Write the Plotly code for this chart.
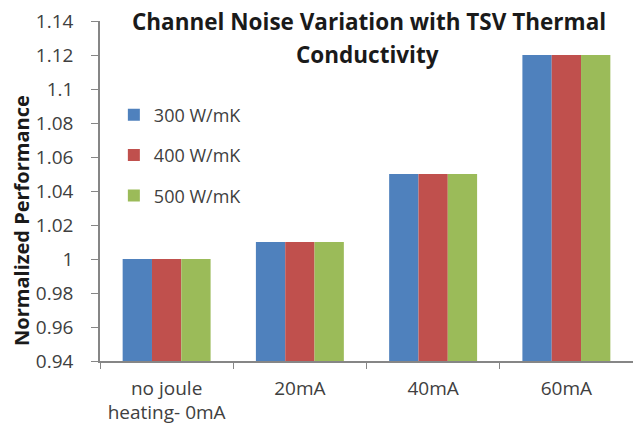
import plotly.graph_objects as go

categories = ["no joule<br>heating- 0mA", "20mA", "40mA", "60mA"]
series_names = ["300 W/mK", "400 W/mK", "500 W/mK"]
values_300 = [1.00, 1.01, 1.05, 1.12]
values_400 = [1.00, 1.01, 1.05, 1.12]
values_500 = [1.00, 1.01, 1.05, 1.12]
y_ticks = [0.94, 0.96, 0.98, 1.0, 1.02, 1.04, 1.06, 1.08, 1.1, 1.12, 1.14]
y_tick_labels = ["0.94", "0.96", "0.98", "1", "1.02", "1.04", "1.06", "1.08", "1.1", "1.12", "1.14"]

colors = ["#4F81BD", "#C0504D", "#9BBB59"]
font = "Open Sans, Lato, sans-serif"
text_color = "#404040"
title_color = "#1a1a1a"

fig = go.Figure()
for i, (name, vals) in enumerate(zip(series_names, [values_300, values_400, values_500])):
    fig.add_trace(go.Bar(
        x=categories, y=vals, name=name, legendgroup=name,
        marker=dict(color=colors[i], line=dict(width=0)),
    ))

fig.update_layout(
    width=633, height=431,
    margin=dict(l=100, r=0, t=21, b=70),
    paper_bgcolor="white", plot_bgcolor="white",
    barmode="group", bargap=0.34, bargroupgap=0,
    font=dict(family=font, color=text_color, size=18),
    showlegend=True,
    legend=dict(x=0.026, y=0.778, xanchor="left", yanchor="top",
                bgcolor="rgba(0,0,0,0)", font=dict(size=18, color=text_color),
                tracegroupgap=14, itemwidth=30),
    xaxis=dict(showline=True, linecolor="#868686", linewidth=1.5,
               ticks="outside", tickson="boundaries", ticklen=6, tickcolor="#868686",
               ticklabelstandoff=9,
               tickfont=dict(size=19, color=text_color), showgrid=False),
    yaxis=dict(range=[0.94, 1.14], tickvals=y_ticks, ticktext=y_tick_labels,
               showline=True, linecolor="#868686", linewidth=1.5,
               ticks="outside", ticklen=7, tickcolor="#868686",
               ticklabelstandoff=14,
               tickfont=dict(size=19, color=text_color), showgrid=False, zeroline=False),
    annotations=[
        dict(text="<b>Channel Noise Variation with TSV Thermal</b>",
             xref="paper", yref="paper", x=0.505, y=1.0, xanchor="center", yanchor="middle",
             yshift=0, showarrow=False, font=dict(size=22.5, color=title_color, family=font)),
        dict(text="<b>Conductivity</b>",
             xref="paper", yref="paper", x=0.502, y=1.0, xanchor="center", yanchor="middle",
             yshift=-33, showarrow=False, font=dict(size=22.5, color=title_color, family=font)),
        dict(text="<b>Normalized Performance</b>", textangle=-90,
             xref="paper", yref="paper", x=0, y=0.412, xanchor="center", yanchor="middle",
             xshift=-78, showarrow=False, font=dict(size=20, color=title_color, family=font)),
    ],
)

fig.write_html("out.html")
